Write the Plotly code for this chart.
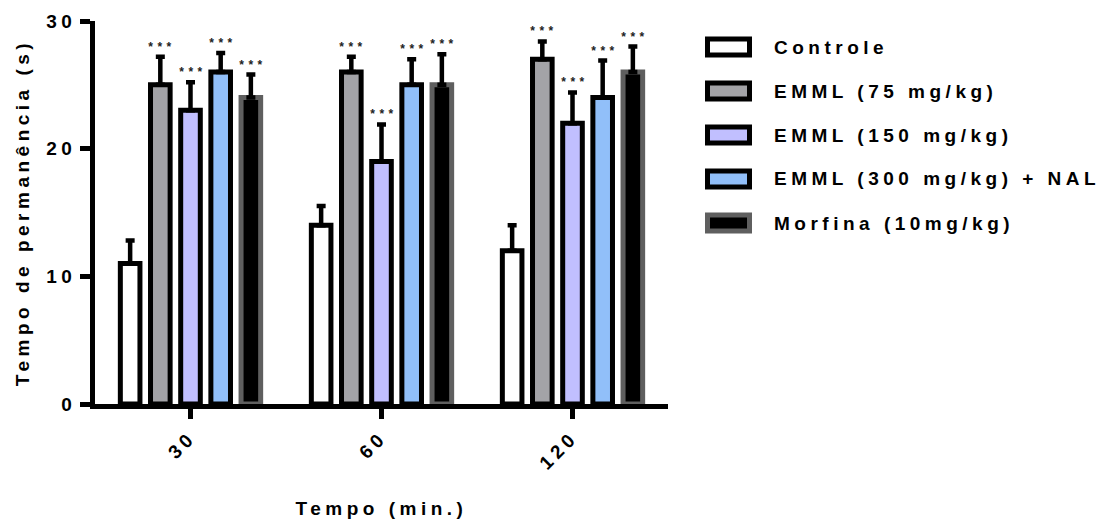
import plotly.graph_objects as go

# Categories (time after treatment, minutes)
tempos = ["30", "60", "120"]

# Group names
grupos = [
    "Controle",
    "EMML (75 mg/kg)",
    "EMML (150 mg/kg)",
    "EMML (300 mg/kg) + NAL",
    "Morfina (10mg/kg)",
]

# Mean time on the rod (s) and SEM for each group
controle = [11, 14, 12]
controle_sem = [1.8, 1.5, 2.0]
emml75 = [25, 26, 27]
emml75_sem = [2.2, 1.2, 1.4]
emml150 = [23, 19, 22]
emml150_sem = [2.2, 2.9, 2.4]
emml300_nal = [26, 25, 24]
emml300_nal_sem = [1.5, 2.0, 2.9]
morfina = [24, 25, 26]
morfina_sem = [1.8, 2.4, 2.0]

# Significance marks per group
sig_controle = ["", "", ""]
sig_emml75 = ["***", "***", "***"]
sig_emml150 = ["***", "***", "***"]
sig_emml300_nal = ["***", "***", "***"]
sig_morfina = ["***", "***", "***"]

medias = [controle, emml75, emml150, emml300_nal, morfina]
erros = [controle_sem, emml75_sem, emml150_sem, emml300_nal_sem, morfina_sem]
sigs = [sig_controle, sig_emml75, sig_emml150, sig_emml300_nal, sig_morfina]

# Styling
preench = ["#FFFFFF", "#A3A3A7", "#C1BFFF", "#91BFF9", "#000000"]
contorno = ["#000000", "#000000", "#000000", "#000000", "#5F5F5F"]
FONTE = "Liberation Sans, Arial, sans-serif"

W, H = 1105, 519
ML, MR, MT, MB = 95, 437, 21, 115
PW = W - ML - MR
PH = H - MT - MB
BARGAP = 0.21
n = len(grupos)
slot = PW / len(tempos) * (1 - BARGAP) / n

fig = go.Figure()
for i in range(n):
    fig.add_trace(go.Bar(
        x=tempos,
        y=medias[i],
        name=grupos[i],
        marker=dict(color=preench[i], line=dict(color=contorno[i], width=5)),
        error_y=dict(type="data", symmetric=False, array=erros[i],
                     arrayminus=[0] * len(tempos), color="black",
                     thickness=4.5, width=4.5),
        showlegend=False,
    ))

annotations = []
for i in range(n):
    for j in range(len(tempos)):
        if sigs[i][j]:
            annotations.append(dict(
                x=j, y=medias[i][j] + erros[i][j], xref="x", yref="y",
                text=sigs[i][j], showarrow=False,
                xshift=(i - (n - 1) / 2) * slot + 2, yshift=10,
                yanchor="middle", xanchor="center",
                font=dict(family=FONTE, size=12, color="#222222"),
            ))

# Legend drawn as boxes + labels
def px_x(p):
    return (p - ML) / PW

def px_y(p):
    return (H - MB - p) / PH

shapes = []
row0, drow = 47, 44
for i in range(n):
    cy = row0 + i * drow
    shapes.append(dict(
        type="rect", xref="paper", yref="paper",
        x0=px_x(707.5), x1=px_x(749.5), y0=px_y(cy + 8), y1=px_y(cy - 8),
        fillcolor=preench[i], line=dict(color=contorno[i], width=5),
    ))
    annotations.append(dict(
        x=px_x(772), y=px_y(cy), xref="paper", yref="paper",
        text=grupos[i], showarrow=False, xanchor="left", yanchor="middle",
        align="left",
        font=dict(family=FONTE, size=19, color="black", weight="bold"),
    ))

fig.update_layout(
    width=W, height=H,
    margin=dict(l=ML, r=MR, t=MT, b=MB, autoexpand=False),
    paper_bgcolor="white", plot_bgcolor="white",
    barmode="group", bargap=BARGAP, bargroupgap=0.35,
    font=dict(family=FONTE, size=19, color="black", weight="bold"),
    annotations=annotations,
    shapes=shapes,
    xaxis=dict(
        type="category", range=[-0.5, len(tempos) - 0.5], automargin=False,
        showline=True, linecolor="black", linewidth=4.5,
        ticks="outside", ticklen=10, tickwidth=4.5, tickcolor="black",
        tickangle=-45, showgrid=False, zeroline=False,
        tickfont=dict(family=FONTE, size=19, color="black", weight="bold"),
        title=dict(text="Tempo (min.)", standoff=40,
                   font=dict(family=FONTE, size=19, color="black", weight="bold")),
    ),
    yaxis=dict(
        range=[0, 30], tickvals=[0, 10, 20, 30], automargin=False,
        showline=True,
        linecolor="black", linewidth=4.5, ticks="outside", ticklen=10,
        tickwidth=4.5, tickcolor="black", showgrid=False, zeroline=False,
        tickfont=dict(family=FONTE, size=19, color="black", weight="bold"),
        title=dict(text="Tempo de permanência (s)", standoff=22,
                   font=dict(family=FONTE, size=19, color="black", weight="bold")),
    ),
)

espaco = (
    "var s=document.createElement('style');"
    "s.textContent='.main-svg text{letter-spacing:4.5px}';"
    "document.head.appendChild(s);"
)
fig.write_html("out.html", post_script=espaco)
